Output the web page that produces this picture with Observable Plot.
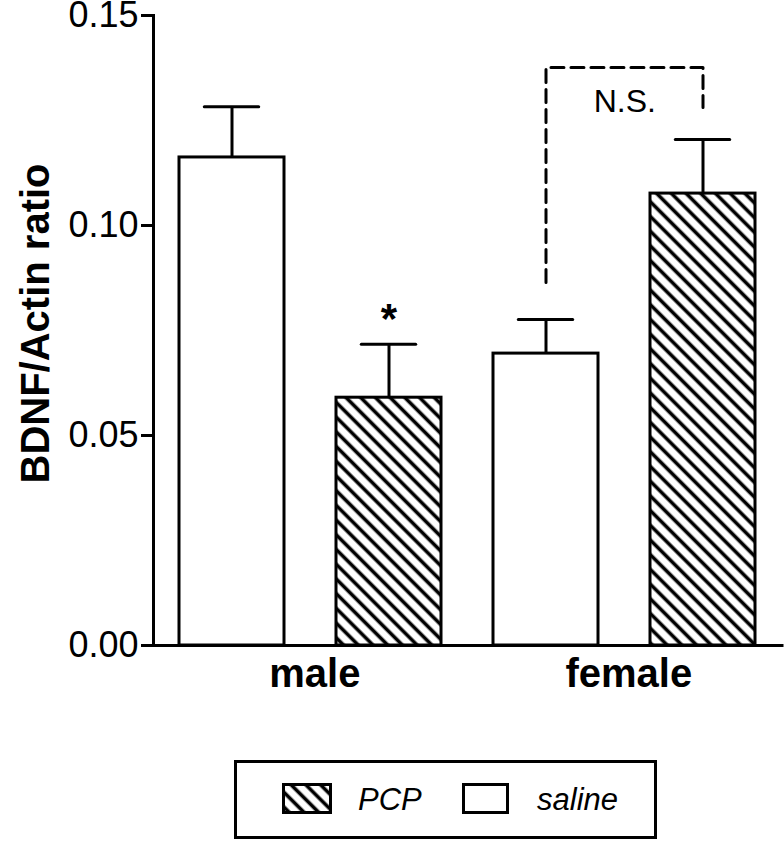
<!DOCTYPE html>
<html><head><meta charset="utf-8">
<script src="https://cdn.jsdelivr.net/npm/d3@7"></script>
<script src="https://cdn.jsdelivr.net/npm/@observablehq/plot@0.6"></script>
<style>
body{margin:0;background:#fff;font-family:"Liberation Sans",Arial,sans-serif;color:#000;}
#chart svg{display:block;overflow:visible;}
#legend{position:relative;box-sizing:border-box;margin-left:234px;margin-top:50px;width:423px;height:79px;border:3px solid #000;}
#legend .sw{position:absolute;box-sizing:border-box;}
#legend .lt{position:absolute;font-style:italic;font-size:31px;line-height:31px;}
</style></head><body>
<div id="chart"></div>
<div id="legend">
  <svg class="sw" style="left:45px;top:20px" width="50" height="31"><rect x="1.5" y="1.5" width="47" height="28" fill="url(#hatch)" stroke="#000" stroke-width="3"/></svg>
  <span class="lt" id="lt0" style="left:121px;top:21px"></span>
  <div class="sw" style="left:225px;top:20px;width:47px;height:31px;border:3px solid #000;background:#fff"></div>
  <span class="lt" id="lt1" style="left:300px;top:21px"></span>
</div>
<script>
const groups = ["male", "male", "female", "female"];
const treatments = ["saline", "PCP", "saline", "PCP"];
const means = [0.1162, 0.0590, 0.0695, 0.1076];
const sems = [0.0121, 0.0127, 0.0081, 0.0129];
const yTicks = [0, 0.05, 0.10, 0.15];
const yTitle = "BDNF/Actin ratio";
const legendLabels = ["PCP", "saline"];
const starKeys = ["male PCP"];
const starY = [0.0775];
const nsKeys = ["female saline", "female saline", "female PCP", "female PCP"];
const nsY = [0.0864, 0.1376, 0.1376, 0.1281];
const nsText = "N.S.";
const nsTextY = 0.1295;

const keys = groups.map((g, i) => g + " " + treatments[i]);
const bars = keys.map((k, i) => ({key: k, group: groups[i], treatment: treatments[i], mean: means[i], top: means[i] + sems[i]}));
const stars = starKeys.map((k, i) => ({key: k, y: starY[i]}));
const nsPath = nsKeys.map((k, i) => ({key: k, y: nsY[i]}));

const xOpts = {type: "band", domain: keys, range: [153, 782], paddingInner: 0.33, paddingOuter: 0.16};
const xs = Plot.scale({x: xOpts});
const step = xs.step ?? (xs.bandwidth / (1 - 0.33));
const capInset = (xs.bandwidth - 55) / 2;

const chart = Plot.plot({
  width: 784, height: 710,
  marginTop: 15, marginBottom: 65, marginLeft: 153, marginRight: 2,
  style: {fontFamily: "'Liberation Sans', Arial, sans-serif", color: "#000", background: "#fff", overflow: "visible"},
  x: xOpts,
  y: {domain: [0, 0.15]},
  marks: [
    Plot.barY(bars.filter(d => d.treatment === "saline"), {x: "key", y: "mean", fill: "#fff", stroke: "#000", strokeWidth: 3}),
    Plot.barY(bars.filter(d => d.treatment === "PCP"), {x: "key", y: "mean", fill: "url(#hatch)", stroke: "#000", strokeWidth: 3}),
    Plot.ruleX(bars, {x: "key", y1: "mean", y2: "top", stroke: "#000", strokeWidth: 3}),
    Plot.tickY(bars, {x: "key", y: "top", stroke: "#000", strokeWidth: 3, insetLeft: capInset, insetRight: capInset, strokeLinecap: "round"}),
    Plot.line(nsPath, {x: "key", y: "y", stroke: "#000", strokeWidth: 3, strokeDasharray: "13,7"}),
    Plot.text([nsText], {x: () => "female saline", y: () => nsTextY, text: d => d, dx: step / 2, fontSize: 32}),
    Plot.text(stars, {x: "key", y: "y", text: () => "*", fontSize: 42, fontWeight: "bold"}),
    Plot.ruleY([0], {stroke: "#000", strokeWidth: 3, strokeLinecap: "square"}),
    Plot.frame({anchor: "left", stroke: "#000", strokeWidth: 3, strokeLinecap: "square"}),
    Plot.axisY({ticks: yTicks, tickFormat: d3.format(".2f"), tickSize: 12, tickPadding: 3, strokeWidth: 3, fontSize: 36, label: null}),
    Plot.axisX({ticks: [keys[0], keys[2]], tickFormat: d => groups[keys.indexOf(d)], tickSize: 0, tickPadding: 13, dx: step / 2 + 4, fontSize: 40, fontWeight: "bold", label: null}),
    Plot.text([yTitle], {frameAnchor: "left", textAnchor: "middle", text: d => d, rotate: -90, dx: -117, dy: -7, fontSize: 40, fontWeight: "bold"})
  ]
});

d3.select(chart).insert("defs", ":first-child").html(
  '<pattern id="hatch" patternUnits="userSpaceOnUse" width="10.4" height="10.4" patternTransform="rotate(-45)">' +
  '<rect width="10.4" height="10.4" fill="#fff"/>' +
  '<line x1="5.2" y1="-1" x2="5.2" y2="11.4" stroke="#000" stroke-width="3.6"/></pattern>');

document.getElementById("chart").appendChild(chart);
document.getElementById("lt0").textContent = legendLabels[0];
document.getElementById("lt1").textContent = legendLabels[1];
</script>
</body></html>
